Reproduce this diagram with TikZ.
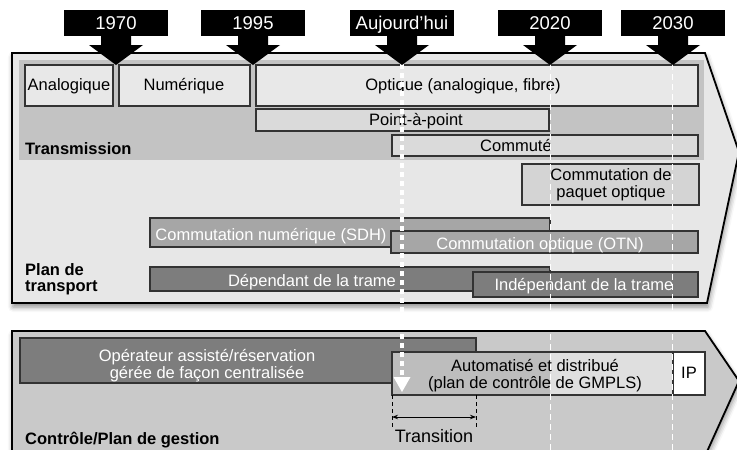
\documentclass[tikz,border=0pt]{standalone}
\usepackage{fontspec}
\setmainfont{Liberation Sans}
\usetikzlibrary{arrows.meta,shadows.blur}
\definecolor{panelA}{gray}{0.905}
\definecolor{panelB}{gray}{0.79}
\definecolor{band}{gray}{0.765}
\definecolor{boxlight}{gray}{0.91}
\definecolor{boxmid}{gray}{0.855}
\definecolor{boxpaq}{gray}{0.83}
\definecolor{boxgray}{gray}{0.65}
\definecolor{boxdark}{gray}{0.49}
\definecolor{autoL}{gray}{0.74}
\definecolor{autoR}{gray}{0.875}
\definecolor{edge}{gray}{0.2}
\begin{document}
\begin{tikzpicture}[x=1pt,y=-1pt,
  txt/.style={inner sep=0pt, font=\fontsize{16.5}{17}\selectfont, text height=11.8pt, text depth=0pt},
  wtxt/.style={txt, text=white},
  mtxt/.style={inner sep=0pt, font=\fontsize{16.5}{17}\selectfont, align=center, anchor=north},
  lbl/.style={inner sep=0pt, font=\fontsize{16.5}{16}\selectfont\bfseries, align=left, anchor=north west},
  bar/.style={draw=edge, line width=1.1pt},
  panel/.style={draw=black, line width=1.8pt, line join=miter,
     blur shadow={shadow xshift=1pt, shadow yshift=-4pt, shadow blur radius=5pt, shadow opacity=45}},
  tickbox/.style={fill=black, inner sep=0pt, minimum width=104pt, minimum height=26pt,
     text=white, font=\fontsize{18.5}{19}\selectfont, text height=13.2pt, text depth=0pt},
  thin dash/.style={draw=white, line width=1pt, dash pattern=on 6pt off 4pt},
  thick dash/.style={draw=white, line width=3.2pt, dash pattern=on 5pt off 4pt}
]
\useasboundingbox (0,0) rectangle (737,450);

% ---------- upper panel (transport) ----------
\path[panel, fill=panelA] (12,53) -- (705,53) -- (739,152) -- (707,303) -- (12,303) -- cycle;
\fill[band] (19,60) rectangle (704,160);

\path[bar, fill=boxlight] (25,65) rectangle (113,106);
\node[txt] (ana) at (69,85) {Analogique};
\path[bar, fill=boxlight] (119,65) rectangle (250,106);
\node[txt] (num) at (184,85) {Numérique};
\path[bar, fill=boxlight] (256,65) rectangle (698,106);
\node[txt] (opt) at (463,85) {Optique (analogique, fibre)};
\path[bar, fill=boxmid] (256,109) rectangle (549,131);
\node[txt] (pap) at (416,120) {Point-à-point};
\path[bar, fill=boxmid] (392,135) rectangle (698,156);
\node[txt] (com) at (516,146) {Commuté};
\node[lbl] (ltrans) at (25,142) {Transmission};

\path[bar, fill=boxpaq] (522,164) rectangle (699,205);
\node[mtxt] (paq) at (611,168.5) {Commutation de\\paquet optique};

\path[bar, fill=boxgray] (150,218) rectangle (550,247);
\node[wtxt] (sdh) at (271,235) {Commutation numérique (SDH)};
\path[bar, fill=boxgray] (391,231) rectangle (698,253);
\node[wtxt] (otn) at (540,243.5) {Commutation optique (OTN)};

\path[bar, fill=boxdark] (150,267) rectangle (550,291);
\node[wtxt] (dep) at (312,281) {Dépendant de la trame};
\path[bar, fill=boxdark] (473,272) rectangle (698,297);
\node[wtxt] (indep) at (584,285) {Indépendant de la trame};

\node[lbl] (lplan) at (25,263.5) {Plan de\\transport};

% ---------- lower panel (control) ----------
\path[panel, fill=panelB] (12,331) -- (705,331) -- (739,381) -- (705,456) -- (12,456) -- cycle;

\path[bar, fill=boxdark] (20,338) rectangle (476,383);
\node[mtxt, text=white] (oper) at (207,349.5) {Opérateur assisté/réservation\\gérée de façon centralisée};

\fill[autoL] (392,352) rectangle (550,395);
\fill[autoR] (550,352) rectangle (673,395);
\draw[bar] (392,352) rectangle (673,395);
\node[mtxt] (auto) at (535,359.5) {Automatisé et distribué\\(plan de contrôle de GMPLS)};
\path[bar, fill=white] (673,352) rectangle (705,395);
\node[txt] (ip) at (689,373) {IP};

% transition
\coordinate (ta) at (392,395);
\coordinate (tb) at (476,395);
\coordinate (ta2) at (392,428);
\coordinate (tb2) at (476,428);
\draw[black, line width=0.8pt, dash pattern=on 4pt off 3pt] (ta) -- (ta2);
\draw[black, line width=0.8pt, dash pattern=on 4pt off 3pt] (tb) -- (tb2);
\draw[black, line width=0.9pt, {Stealth[length=6pt,width=4.5pt]}-{Stealth[length=6pt,width=4.5pt]}] (392,417) -- (476,417);
\node[inner sep=0pt, font=\fontsize{18}{18}\selectfont, text height=13pt, text depth=0pt] (trans) at (434,436) {Transition};

\node[lbl] (lctrl) at (25,431.5) {Contrôle/Plan de gestion};

% ---------- vertical white dashed lines ----------
\coordinate (dnow) at (402,64);
\coordinate (dnowend) at (402,377);
\draw[thick dash] (dnow) -- (dnowend);
\fill[white] (393.5,377) -- (410.5,377) -- (402,392) -- cycle;
\coordinate (d20) at (550,64);
\coordinate (d20end) at (550,452);
\draw[thin dash] (d20) -- (d20end);
\coordinate (d30) at (672,64);
\coordinate (d30end) at (672,452);
\draw[thin dash] (d30) -- (d30end);

% ---------- time markers ----------
\foreach \c/\lab/\nm in {116/1970/t1, 253/1995/t2, 402/Aujourd'hui/t3, 550/2020/t4, 673/2030/t5}{
  \node[tickbox] (\nm) at (\c,23) {\lab};
  \fill[black] (\c-15,35.5) -- (\c+15,35.5) -- (\c+15,45) -- (\c+27,45) -- (\c,65) -- (\c-27,45) -- (\c-15,45) -- cycle;
}
\end{tikzpicture}
\end{document}
